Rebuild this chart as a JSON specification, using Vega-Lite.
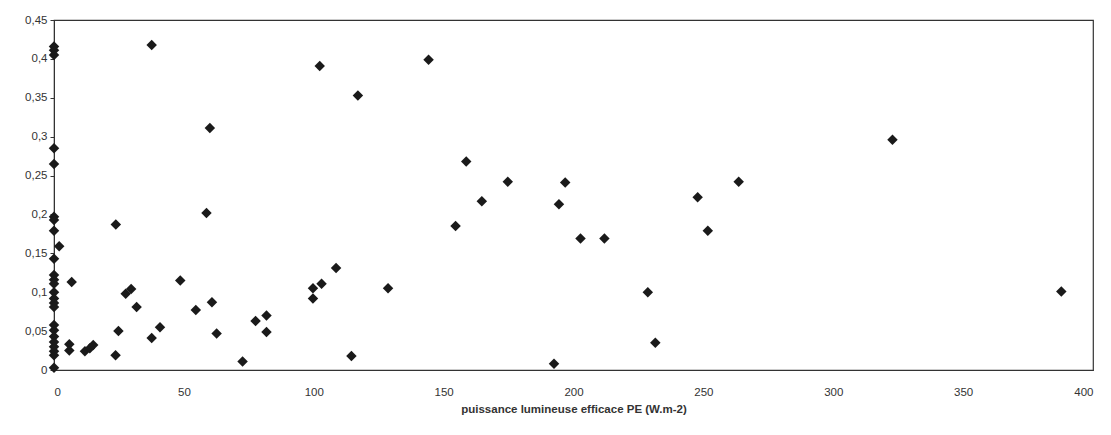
{
  "$schema": "https://vega.github.io/schema/vega-lite/v6.json",
  "autosize": {"type": "none"},
  "padding": {"left": 54, "top": 20, "right": 18, "bottom": 65},
  "width": 1039,
  "height": 350,
  "background": "white",
  "config": {
    "view": {"stroke": "#333", "strokeWidth": 1.2},
    "font": "Liberation Sans",
    "axis": {"grid": false, "domainColor": "#333", "tickColor": "#333", "labelColor": "#333", "labelFont": "Liberation Sans", "labelFontSize": 11.5, "tickSize": 4}
  },
  "data": {
    "values": [
      {"pe": 0, "v": 0.416}, {"pe": 0, "v": 0.411}, {"pe": 0, "v": 0.405},
      {"pe": 0, "v": 0.285}, {"pe": 0, "v": 0.265}, {"pe": 0, "v": 0.197},
      {"pe": 0, "v": 0.193}, {"pe": 0, "v": 0.179}, {"pe": 0, "v": 0.143},
      {"pe": 0, "v": 0.122}, {"pe": 0, "v": 0.116}, {"pe": 0, "v": 0.111},
      {"pe": 0, "v": 0.1}, {"pe": 0, "v": 0.092}, {"pe": 0, "v": 0.086},
      {"pe": 0, "v": 0.081}, {"pe": 0, "v": 0.058}, {"pe": 0, "v": 0.051},
      {"pe": 0, "v": 0.043}, {"pe": 0, "v": 0.036}, {"pe": 0, "v": 0.03},
      {"pe": 0, "v": 0.024}, {"pe": 0, "v": 0.019}, {"pe": 0, "v": 0.003},
      {"pe": 2, "v": 0.159},
      {"pe": 6.8, "v": 0.113},
      {"pe": 5.9, "v": 0.033}, {"pe": 5.9, "v": 0.025},
      {"pe": 11.9, "v": 0.024}, {"pe": 13.8, "v": 0.028}, {"pe": 15.1, "v": 0.032},
      {"pe": 23.8, "v": 0.187}, {"pe": 24.8, "v": 0.05}, {"pe": 23.7, "v": 0.019},
      {"pe": 27.6, "v": 0.098}, {"pe": 29.7, "v": 0.104}, {"pe": 31.8, "v": 0.081},
      {"pe": 37.6, "v": 0.041}, {"pe": 40.8, "v": 0.055},
      {"pe": 37.6, "v": 0.418},
      {"pe": 48.6, "v": 0.115}, {"pe": 54.6, "v": 0.077},
      {"pe": 58.7, "v": 0.202}, {"pe": 60, "v": 0.311},
      {"pe": 60.8, "v": 0.087}, {"pe": 62.6, "v": 0.047},
      {"pe": 72.6, "v": 0.011}, {"pe": 77.6, "v": 0.063},
      {"pe": 81.8, "v": 0.07}, {"pe": 81.8, "v": 0.049},
      {"pe": 99.7, "v": 0.092}, {"pe": 99.7, "v": 0.105},
      {"pe": 103, "v": 0.111}, {"pe": 108.6, "v": 0.131},
      {"pe": 102.3, "v": 0.391}, {"pe": 117, "v": 0.353},
      {"pe": 114.5, "v": 0.018}, {"pe": 128.6, "v": 0.105},
      {"pe": 144.2, "v": 0.399}, {"pe": 154.6, "v": 0.185},
      {"pe": 158.7, "v": 0.268}, {"pe": 164.7, "v": 0.217},
      {"pe": 174.7, "v": 0.242}, {"pe": 192.5, "v": 0.008},
      {"pe": 194.4, "v": 0.213}, {"pe": 196.8, "v": 0.241},
      {"pe": 202.7, "v": 0.169}, {"pe": 211.9, "v": 0.169},
      {"pe": 228.6, "v": 0.1}, {"pe": 231.5, "v": 0.035},
      {"pe": 247.8, "v": 0.222}, {"pe": 251.7, "v": 0.179},
      {"pe": 263.6, "v": 0.242}, {"pe": 322.8, "v": 0.296},
      {"pe": 387.8, "v": 0.101}
    ]
  },
  "mark": {"type": "point", "shape": "diamond", "filled": true, "size": 110, "color": "#1a1a1a", "opacity": 1},
  "encoding": {
    "x": {
      "field": "pe", "type": "quantitative",
      "scale": {"domain": [0, 400], "nice": false, "zero": true},
      "axis": {
        "values": [0, 50, 100, 150, 200, 250, 300, 350, 400],
        "ticks": false,
        "title": "puissance lumineuse efficace PE (W.m-2)",
        "titleFont": "Liberation Sans", "titleFontSize": 11.5, "titleFontWeight": "bold", "titleColor": "#333",
        "titlePadding": 6, "labelPadding": 16
      }
    },
    "y": {
      "field": "v", "type": "quantitative",
      "scale": {"domain": [0, 0.45], "nice": false},
      "axis": {
        "values": [0, 0.05, 0.1, 0.15, 0.2, 0.25, 0.3, 0.35, 0.4, 0.45],
        "labelExpr": "replace(toString(datum.value), '.', ',')",
        "title": null, "labelPadding": 3
      }
    }
  }
}
